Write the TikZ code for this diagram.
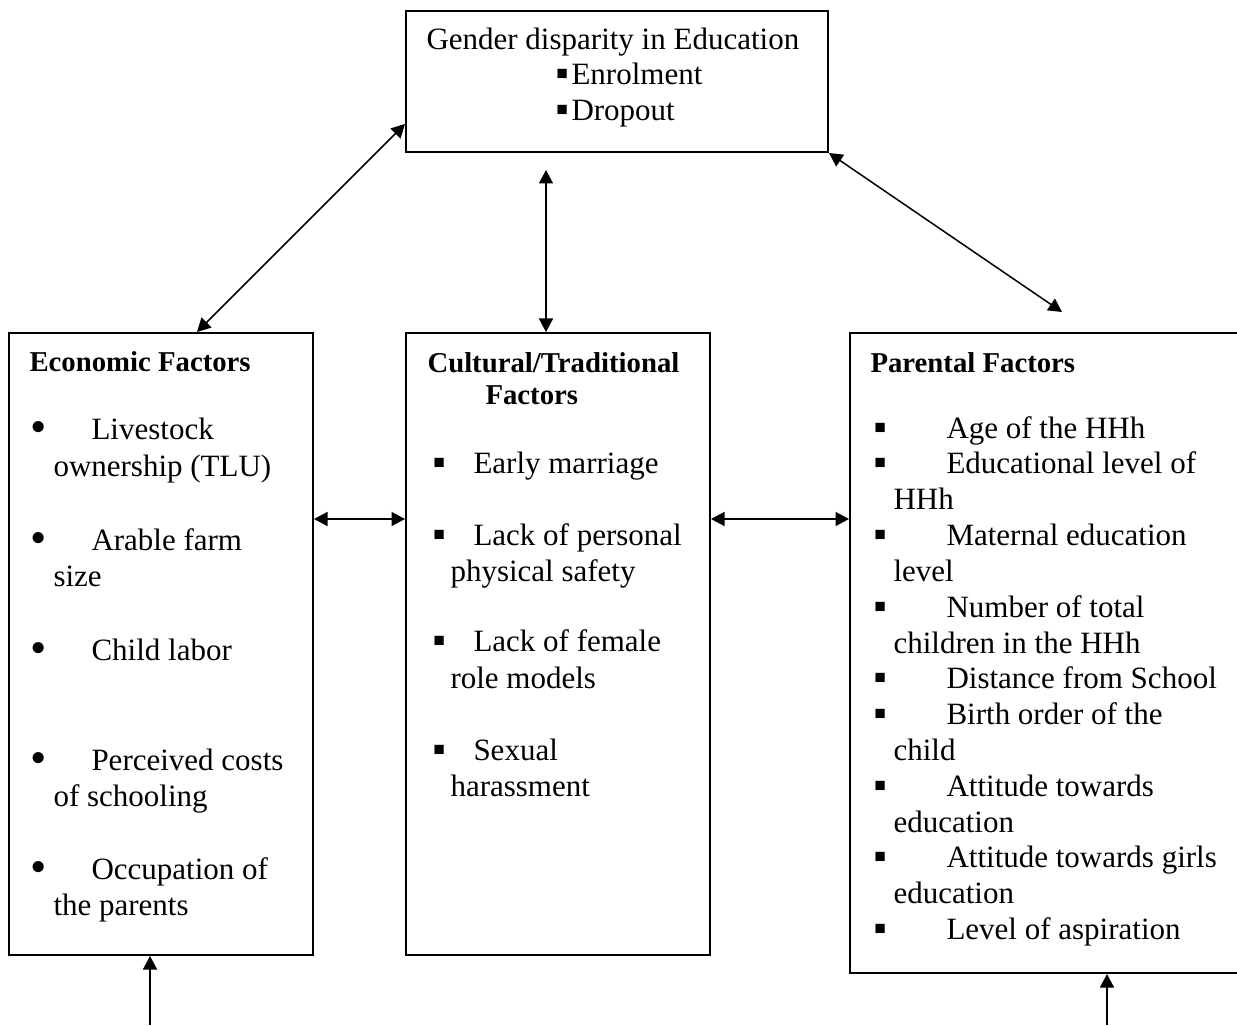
\documentclass[tikz,border=0pt]{standalone}
\usepackage{fontspec}
\setmainfont{Liberation Serif}
\usetikzlibrary{arrows.meta}
\tikzset{
  factorbox/.style={draw=black,line width=0.8pt,inner sep=0pt},
  link/.style={black,line width=0.6pt,{Triangle[length=5.4pt,width=5.6pt]}-{Triangle[length=5.4pt,width=5.6pt]}},
  uplink/.style={black,line width=0.6pt,-{Triangle[length=5.4pt,width=5.6pt]}},
  txt/.style={anchor=base west,inner sep=0pt,font=\fontsize{12.4}{14.4}\selectfont},
  head/.style={txt,font=\fontsize{11.5}{14.4}\selectfont\bfseries}
}
\newcommand{\rb}[1]{\makebox[#1][l]{\raisebox{-1.2pt}{\scalebox{1.5}{•}}}}
\newcommand{\sq}[1]{\makebox[#1][l]{\raisebox{-0.4pt}{\scalebox{1.2}{▪}}}}
\begin{document}
\begin{tikzpicture}[x=0.4pt,y=-0.4pt]
  \useasboundingbox (0,0) rectangle (1237,1025);
  \clip (0,0) rectangle (1237,1025);
  % boxes
  \node[factorbox,minimum width=168.8pt,minimum height=56.4pt] (gender) at (617,81.5) {};
  \node[factorbox,minimum width=121.6pt,minimum height=248.8pt] (econ) at (161,644) {};
  \node[factorbox,minimum width=121.6pt,minimum height=248.8pt] (cult) at (558,644) {};
  \node[factorbox,minimum width=158pt,minimum height=256pt] (parent) at (1047.5,653) {};
  % outcome
  \node[txt] (g0) at (426,50) {Gender disparity in Education};
  \node[txt] (g1) at (555,85) {\sq{6.4pt}Enrolment};
  \node[txt] (g2) at (555,121) {\sq{6.4pt}Dropout};
  % economic factors
  \node[head] (e0) at (29,371) {Economic Factors};
  \node[txt] (e1) at (30,439) {\rb{24.4pt}Livestock};
  \node[txt] (e1b) at (53,476) {ownership (TLU)};
  \node[txt] (e2) at (30,550) {\rb{24.4pt}Arable farm};
  \node[txt] (e2b) at (53,586) {size};
  \node[txt] (e3) at (30,660) {\rb{24.4pt}Child labor};
  \node[txt] (e4) at (30,770) {\rb{24.4pt}Perceived costs};
  \node[txt] (e4b) at (53,806) {of schooling};
  \node[txt] (e5) at (30,879) {\rb{24.4pt}Occupation of};
  \node[txt] (e5b) at (53,915) {the parents};
  % cultural/traditional factors
  \node[head] (c0) at (427,372) {Cultural/Traditional};
  \node[head] (c0b) at (485,404) {Factors};
  \node[txt] (c1) at (432,473) {\sq{16.4pt}Early marriage};
  \node[txt] (c2) at (432,545) {\sq{16.4pt}Lack of personal};
  \node[txt] (c2b) at (450,581) {physical safety};
  \node[txt] (c3) at (432,651) {\sq{16.4pt}Lack of female};
  \node[txt] (c3b) at (450,688) {role models};
  \node[txt] (c4) at (432,760) {\sq{16.4pt}Sexual};
  \node[txt] (c4b) at (450,796) {harassment};
  % parental factors
  \node[head] (p0) at (870,372) {Parental Factors};
  \node[txt] (p1) at (873,438) {\sq{29.2pt}Age of the HHh};
  \node[txt] (p2) at (873,473) {\sq{29.2pt}Educational level of};
  \node[txt] (p2b) at (893,509) {HHh};
  \node[txt] (p3) at (873,545) {\sq{29.2pt}Maternal education};
  \node[txt] (p3b) at (893,581) {level};
  \node[txt] (p4) at (873,617) {\sq{29.2pt}Number of total};
  \node[txt] (p4b) at (893,653) {children in the HHh};
  \node[txt] (p5) at (873,688) {\sq{29.2pt}Distance from School};
  \node[txt] (p6) at (873,724) {\sq{29.2pt}Birth order of the};
  \node[txt] (p6b) at (893,760) {child};
  \node[txt] (p7) at (873,796) {\sq{29.2pt}Attitude towards};
  \node[txt] (p7b) at (893,832) {education};
  \node[txt] (p8) at (873,867) {\sq{29.2pt}Attitude towards girls};
  \node[txt] (p8b) at (893,903) {education};
  \node[txt] (p9) at (873,939) {\sq{29.2pt}Level of aspiration};
  % connectors
  \coordinate (vtop) at (546,170);
  \coordinate (rfree) at (1062,312);
  \coordinate (midrow) at (0,519);
  \coordinate (efoot) at (150,1025);
  \coordinate (pfoot) at (1107,1025);
  \draw[link] ([yshift=-17pt]gender.west) -- ([xshift=14.4pt]econ.north);
  \draw[link] (vtop) -- (vtop |- cult.north);
  \draw[link] (gender.south east) -- (rfree);
  \draw[link] (econ.east |- midrow) -- (cult.west |- midrow);
  \draw[link] (cult.east |- midrow) -- (parent.west |- midrow);
  \draw[uplink] (efoot) -- (efoot |- econ.south);
  \draw[uplink] (pfoot) -- (pfoot |- parent.south);
\end{tikzpicture}
\end{document}
